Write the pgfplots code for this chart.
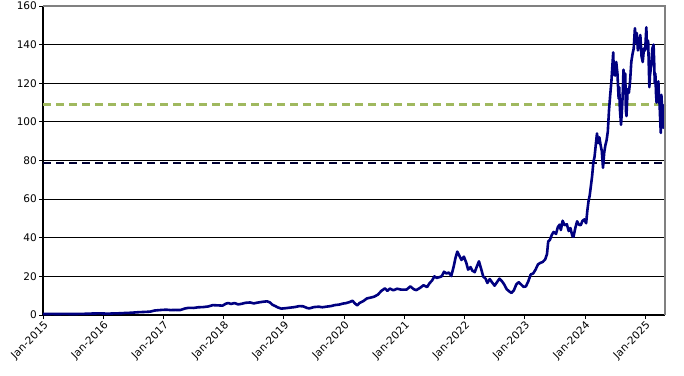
\documentclass[border=0pt]{standalone}
\usepackage{pgfplots}
\pgfplotsset{compat=1.18}
\usepackage{fontspec}
\setmainfont{DejaVu Sans}
\definecolor{navyline}{RGB}{0,0,128}
\definecolor{greendash}{RGB}{160,185,95}
\definecolor{darkdash}{RGB}{0,0,50}
\begin{document}
\begin{tikzpicture}
\useasboundingbox (-43pt,-60pt) rectangle (641pt,315pt);
\begin{axis}[
  scale only axis, width=622pt, height=309pt,
  xmin=2015, xmax=2025.33, ymin=0, ymax=160,
  axis lines=left, axis line style={-, black, line width=1.6pt},
  ytick={0,20,...,160},
  xtick={2015,2016,...,2025},
  xticklabels={Jan-2015,Jan-2016,Jan-2017,Jan-2018,Jan-2019,Jan-2020,Jan-2021,Jan-2022,Jan-2023,Jan-2024,Jan-2025},
  tick align=outside, major tick length=4pt,
  tick style={black, line width=0.8pt},
  ymajorgrids, major grid style={black, line width=0.8pt},
  /pgf/number format/assume math mode=true,
  tick label style={font=\fontsize{10.5}{12}\selectfont, black},
  x tick label style={rotate=45, anchor=north east, inner sep=1pt},
  y tick label style={inner sep=2pt},
  clip=false,
  after end axis/.code={
    \draw[gray, line width=1.8pt] (rel axis cs:0,1) -- (rel axis cs:1,1) -- (rel axis cs:1,0);
  },
]
\addplot[greendash, line width=2.2pt, dash pattern=on 8pt off 5pt] coordinates {(2015,109) (2025.33,109)};
\addplot[darkdash, line width=2.2pt, dash pattern=on 8pt off 5pt] coordinates {(2015,78.7) (2025.33,78.7)};
\addplot[navyline, line width=2.6pt, line join=round] table {
2015.00 0.50
2015.08 0.54
2015.17 0.55
2015.25 0.52
2015.33 0.56
2015.42 0.55
2015.50 0.50
2015.58 0.55
2015.67 0.60
2015.75 0.68
2015.83 0.78
2015.92 0.82
2016.00 0.80
2016.06 0.70
2016.12 0.75
2016.20 0.86
2016.30 0.90
2016.38 1.10
2016.45 1.15
2016.52 1.30
2016.60 1.48
2016.70 1.60
2016.78 1.75
2016.85 2.30
2016.92 2.50
2016.98 2.65
2017.05 2.75
2017.12 2.55
2017.20 2.62
2017.28 2.58
2017.36 3.40
2017.42 3.70
2017.50 3.65
2017.58 4.00
2017.66 4.10
2017.74 4.40
2017.82 5.10
2017.90 5.00
2017.98 4.85
2018.04 5.90
2018.08 6.20
2018.12 5.70
2018.18 6.20
2018.24 5.50
2018.30 5.80
2018.36 6.30
2018.44 6.50
2018.50 6.00
2018.56 6.40
2018.64 6.80
2018.72 7.10
2018.77 6.50
2018.81 5.30
2018.86 4.60
2018.90 3.90
2018.96 3.30
2019.02 3.50
2019.10 3.80
2019.18 4.10
2019.26 4.60
2019.32 4.50
2019.38 3.70
2019.42 3.40
2019.50 4.10
2019.58 4.30
2019.64 4.00
2019.70 4.30
2019.78 4.60
2019.84 5.10
2019.92 5.40
2019.98 5.90
2020.04 6.20
2020.10 6.80
2020.14 7.40
2020.18 6.00
2020.22 5.00
2020.26 6.30
2020.32 7.20
2020.38 8.60
2020.44 9.00
2020.50 9.50
2020.56 10.50
2020.62 12.50
2020.68 13.80
2020.72 12.50
2020.76 13.70
2020.82 12.80
2020.88 13.60
2020.94 13.20
2020.98 13.10
2021.04 13.20
2021.10 14.80
2021.16 13.30
2021.20 12.90
2021.26 14.00
2021.32 15.40
2021.38 14.50
2021.42 16.50
2021.46 17.80
2021.50 20.00
2021.54 19.20
2021.58 19.60
2021.62 20.00
2021.66 22.40
2021.70 21.50
2021.74 22.00
2021.78 20.20
2021.82 25.00
2021.85 29.50
2021.88 32.80
2021.91 31.00
2021.95 28.50
2021.99 30.20
2022.03 27.00
2022.06 23.50
2022.10 24.80
2022.13 23.00
2022.17 22.20
2022.21 25.50
2022.24 27.80
2022.28 23.50
2022.31 20.00
2022.35 18.80
2022.38 16.60
2022.42 18.60
2022.46 16.80
2022.50 15.20
2022.54 17.00
2022.58 18.80
2022.62 17.60
2022.66 15.80
2022.70 13.40
2022.74 12.30
2022.78 11.40
2022.82 12.80
2022.86 15.80
2022.90 17.00
2022.94 15.80
2022.98 14.60
2023.02 14.80
2023.06 17.50
2023.10 21.00
2023.14 21.50
2023.18 23.50
2023.22 26.20
2023.26 27.00
2023.30 27.50
2023.34 28.80
2023.37 31.50
2023.39 38.00
2023.42 39.00
2023.45 41.50
2023.48 43.00
2023.52 42.00
2023.55 45.50
2023.58 46.80
2023.60 44.00
2023.63 48.80
2023.66 46.50
2023.70 47.00
2023.73 43.50
2023.76 45.00
2023.79 41.00
2023.81 40.50
2023.84 45.00
2023.87 48.50
2023.90 46.80
2023.93 46.50
2023.96 48.80
2023.99 49.50
2024.02 47.50
2024.04 54.00
2024.06 59.00
2024.08 62.00
2024.10 67.00
2024.12 72.00
2024.14 79.00
2024.16 82.00
2024.18 88.00
2024.20 94.00
2024.22 89.00
2024.24 92.00
2024.26 88.00
2024.28 85.00
2024.30 76.20
2024.32 84.00
2024.34 88.00
2024.36 90.50
2024.38 95.00
2024.40 106.00
2024.42 114.00
2024.44 121.00
2024.46 131.00
2024.47 136.00
2024.48 125.00
2024.50 124.00
2024.52 131.00
2024.54 125.00
2024.56 112.00
2024.57 118.00
2024.58 107.00
2024.60 98.50
2024.62 109.00
2024.63 116.00
2024.64 127.00
2024.66 120.00
2024.67 125.00
2024.68 106.00
2024.69 103.00
2024.71 117.00
2024.73 115.00
2024.75 121.00
2024.77 131.00
2024.79 135.00
2024.81 138.00
2024.83 148.50
2024.85 141.00
2024.86 146.00
2024.88 137.00
2024.90 140.00
2024.92 145.00
2024.94 134.00
2024.96 131.00
2024.98 138.00
2025.00 137.00
2025.02 149.00
2025.03 138.00
2025.05 142.00
2025.07 118.00
2025.08 124.00
2025.10 129.00
2025.12 138.00
2025.14 140.00
2025.15 131.00
2025.16 120.00
2025.17 125.00
2025.18 115.00
2025.19 110.00
2025.21 117.00
2025.22 121.00
2025.23 112.00
2025.24 109.00
2025.25 101.00
2025.26 94.30
2025.27 114.00
2025.28 108.00
2025.29 101.00
2025.30 96.90
2025.31 106.00
2025.32 108.50
2025.33 109.00
};
\end{axis}
\end{tikzpicture}
\end{document}
